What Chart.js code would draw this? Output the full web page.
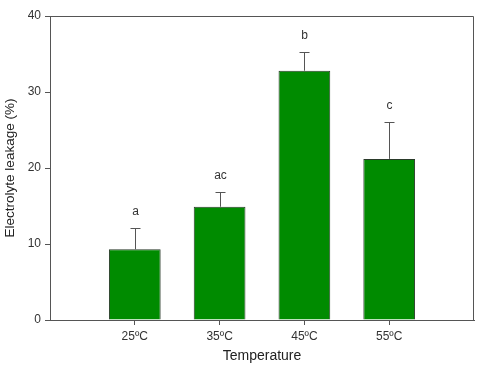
<!DOCTYPE html>
<html>
<head>
<meta charset="utf-8">
<script src="https://cdn.jsdelivr.net/npm/chart.js@4.4.0/dist/chart.umd.min.js"></script>
<style>
html,body{margin:0;padding:0;background:#fff;}
#wrap{width:504px;height:370px;}
</style>
</head>
<body>
<div id="wrap"><canvas id="c" width="504" height="370"></canvas></div>
<script>
const categories = ['25ºC', '35ºC', '45ºC', '55ºC'];
const means = [9.3, 14.9, 32.8, 21.2];
const errors = [2.8, 2.0, 2.4, 4.8];
const letters = ['a', 'ac', 'b', 'c'];
const yTicks = [0, 10, 20, 30, 40];

const FONT = "'Liberation Sans', Arial, sans-serif";
const positions = categories.map((c, i) => i + 1);

const framePlugin = {
  id: 'frame',
  afterDatasetsDraw(chart) {
    const {ctx, chartArea: a} = chart;
    ctx.save();
    ctx.strokeStyle = '#555';
    ctx.lineWidth = 1;
    ctx.beginPath();
    ctx.moveTo(a.left, a.top + 0.5);
    ctx.lineTo(a.right - 0.5, a.top + 0.5);
    ctx.lineTo(a.right - 0.5, a.bottom);
    ctx.stroke();
    ctx.restore();
  }
};

const errPlugin = {
  id: 'errbars',
  afterDatasetsDraw(chart) {
    const {ctx} = chart;
    const xs = chart.scales.x, ys = chart.scales.y;
    ctx.save();
    ctx.strokeStyle = '#555';
    ctx.lineWidth = 1;
    ctx.fillStyle = '#333';
    ctx.font = '12px ' + FONT;
    ctx.textAlign = 'center';
    ctx.textBaseline = 'middle';
    means.forEach((m, i) => {
      const x = Math.round(xs.getPixelForValue(positions[i])) + 0.5;
      const y0 = ys.getPixelForValue(m);
      const y1 = Math.round(ys.getPixelForValue(m + errors[i])) + 0.5;
      ctx.beginPath();
      ctx.moveTo(x, y0);
      ctx.lineTo(x, y1);
      ctx.moveTo(x - 5, y1);
      ctx.lineTo(x + 5, y1);
      ctx.stroke();
      ctx.fillText(letters[i], x, y1 - 17);
    });
    ctx.restore();
  }
};

new Chart(document.getElementById('c'), {
  type: 'bar',
  data: {
    datasets: [{
      data: positions.map((p, i) => ({x: p, y: means[i]})),
      backgroundColor: '#008b00',
      borderColor: '#2a3a2a',
      borderWidth: 1,
      borderSkipped: 'bottom',
      barPercentage: 0.61,
      categoryPercentage: 1.0
    }]
  },
  options: {
    responsive: false,
    animation: false,
    devicePixelRatio: 1,
    layout: {padding: {top: 16, right: 30, left: 0, bottom: 0}},
    plugins: {legend: {display: false}, tooltip: {enabled: false}},
    scales: {
      x: {
        type: 'linear',
        min: 0, max: 5,
        offset: false,
        afterBuildTicks(s) { s.ticks = positions.map(v => ({value: v})); },
        afterFit(s) { s.height = 50; },
        ticks: {
          callback: (v) => categories[positions.indexOf(v)] || '',
          color: '#333', font: {family: FONT, size: 12}, padding: 4, maxRotation: 0, autoSkip: false
        },
        grid: {offset: false, drawOnChartArea: false, drawTicks: true, tickLength: 5, color: '#555'},
        border: {color: '#555', width: 1},
        title: {display: true, text: 'Temperature', color: '#222', font: {family: FONT, size: 14}, padding: {top: 4, bottom: 5}}
      },
      y: {
        min: 0, max: 40,
        afterBuildTicks(s) { s.ticks = yTicks.map(v => ({value: v})); },
        afterFit(s) { s.width = 50; },
        ticks: {color: '#333', font: {family: FONT, size: 12}, padding: 4},
        grid: {drawOnChartArea: false, drawTicks: true, tickLength: 5, color: '#555'},
        border: {color: '#555', width: 1},
        title: {display: true, text: 'Electrolyte leakage (%)', color: '#222', font: {family: FONT, size: 13.5}, padding: {top: 2, bottom: 2}}
      }
    }
  },
  plugins: [framePlugin, errPlugin]
});
</script>
</body>
</html>
